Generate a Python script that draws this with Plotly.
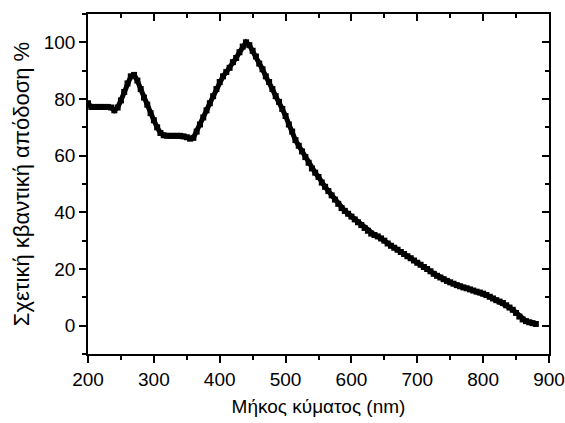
import plotly.graph_objects as go

wavelength = list(range(200, 885, 5))
efficiency = [
    78.5, 77.2, 77.2, 77.2, 77.2, 77.2, 77.2, 77.0, 76.0, 77.0,
    79.5, 82.5, 85.5, 88.0, 88.5, 86.5, 83.5, 80.5, 78.0, 75.0,
    72.5, 70.0, 68.0, 67.2, 67.0, 67.0, 67.0, 67.0, 67.0, 66.8,
    66.5, 66.0, 66.3, 68.5, 71.0, 73.5, 76.0, 78.5, 81.0, 83.5,
    86.0, 88.0, 89.5, 91.0, 93.0, 94.5, 96.5, 98.5, 100.0, 99.0,
    97.0, 95.0, 92.5, 90.5, 88.0, 86.0, 83.5, 81.0, 79.0, 76.5,
    74.0, 71.0, 68.5, 65.5, 63.5, 61.5, 59.5, 57.5, 55.5, 54.0,
    52.5, 50.5, 49.0, 47.5, 46.0, 44.5, 43.0, 41.5, 40.5, 39.5,
    38.5, 37.5, 36.5, 35.5, 34.5, 33.5, 32.5, 32.0, 31.5, 30.8,
    30.0, 29.0, 28.2, 27.5, 26.8, 26.0, 25.3, 24.5, 23.8, 23.0,
    22.2, 21.5, 20.7, 20.0, 19.2, 18.3, 17.6, 17.0, 16.4, 15.8,
    15.3, 14.8, 14.3, 13.9, 13.5, 13.2, 12.8, 12.4, 12.0, 11.7,
    11.3, 10.8, 10.2, 9.6, 9.0, 8.5, 8.0, 7.2, 6.4, 5.6,
    4.5, 3.2, 2.2, 1.6, 1.2, 0.9, 0.6,
]

x_title = "Μήκος κύματος (nm)"
y_title = "Σχετική κβαντική απόδοση %"

FONT = "Liberation Sans, Arial, sans-serif"

fig = go.Figure()
fig.add_trace(go.Scatter(
    x=wavelength, y=efficiency, mode="lines+markers",
    line=dict(color="black", width=5),
    marker=dict(symbol="square", size=6, color="black"),
    showlegend=False,
))
# helper trace to activate top/right axes
fig.add_trace(go.Scatter(x=[None], y=[None], xaxis="x2", yaxis="y2",
                         mode="lines", showlegend=False, hoverinfo="skip"))

common = dict(showgrid=False, zeroline=False, showline=True,
              linecolor="black", linewidth=1.5, tickcolor="black",
              tickwidth=1.5, automargin=False)

fig.update_layout(
    width=565, height=423,
    margin=dict(l=88, r=16, t=14, b=69),
    paper_bgcolor="white", plot_bgcolor="white",
    font=dict(family=FONT, color="black", size=19),
    xaxis=dict(range=[200, 900], dtick=100, tick0=200, ticks="outside",
               ticklen=7, minor=dict(dtick=50, ticks="outside", ticklen=4,
                                     tickcolor="black", tickwidth=1.5),
               title=dict(text=x_title, font=dict(size=19), standoff=11),
               tickfont=dict(size=19), **common),
    yaxis=dict(range=[-10, 110], dtick=20, tick0=0, ticks="outside",
               ticklen=7, minor=dict(dtick=10, ticks="outside", ticklen=4,
                                     tickcolor="black", tickwidth=1.5),
               title=dict(text=y_title, font=dict(size=22), standoff=8),
               tickfont=dict(size=19), **common),
    xaxis2=dict(range=[200, 900], dtick=100, tick0=200, ticks="inside",
                ticklen=7, overlaying="x", side="top", showticklabels=False,
                minor=dict(dtick=50, ticks="inside", ticklen=4,
                           tickcolor="black", tickwidth=1.5),
                **common),
    yaxis2=dict(range=[-10, 110], dtick=20, tick0=0, ticks="inside",
                ticklen=7, overlaying="y", side="right", showticklabels=False,
                minor=dict(dtick=10, ticks="inside", ticklen=4,
                           tickcolor="black", tickwidth=1.5),
                **common),
)

fig.write_html("out.html")
